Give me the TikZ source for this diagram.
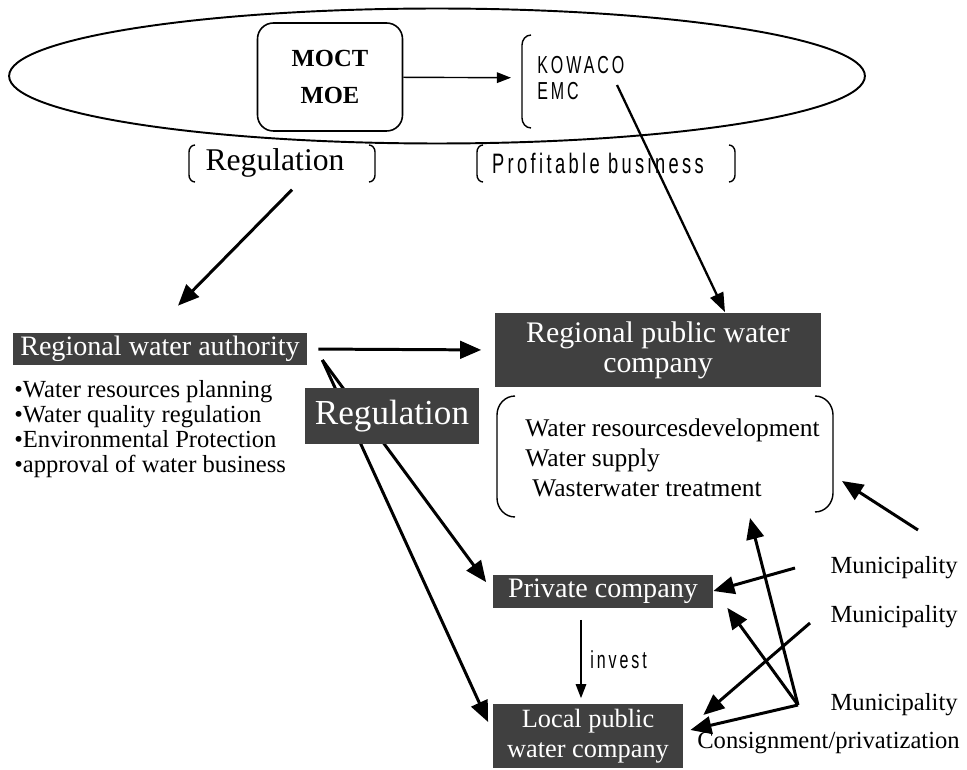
\documentclass[tikz,border=0pt]{standalone}
\usepackage{fontspec}
\setmainfont{Liberation Serif}
\newfontfamily\narrowsans[FakeStretch=0.65, LetterSpace=12]{Liberation Sans}
\usetikzlibrary{shapes.geometric, arrows.meta, positioning, calc}

\begin{document}
\begin{tikzpicture}[
    x=0.02cm, y=-0.02cm,
    serif/.style={font=\fontsize{14}{14.2}\selectfont, inner sep=0pt, align=left},
    narrow/.style={font=\narrowsans\fontsize{16}{17}\selectfont, inner sep=0pt, align=left},
    shaded/.style={rectangle, fill=black!75, text=white, inner sep=0pt, align=center},
    bigarrow/.style={->, line width=1.7pt, >={Triangle[length=12pt,width=10pt]}},
    midarrow/.style={->, line width=1.3pt, >={Triangle[length=11pt,width=8pt]}},
    thinarrow/.style={->, line width=0.8pt, >={Triangle[length=8pt,width=6pt]}},
    bracket/.style={line width=0.8pt}
]
\useasboundingbox (0,0) rectangle (967,770);

% Ministries and public corporations
\node[ellipse, draw, line width=1.1pt, minimum width=17.12cm, minimum height=2.7cm] (gov) at (437,76) {};
\node[rectangle, draw, rounded corners=9pt, line width=0.9pt, minimum width=2.9cm, minimum height=2.16cm,
      align=center, font=\bfseries\fontsize{14}{21.5}\selectfont] (ministry) at (330,77) {MOCT\\MOE};
\node[narrow, font=\narrowsans\fontsize{14}{15.3}\selectfont, anchor=west] (kowaco) at (537,78) {KOWACO\\EMC};
\coordinate (emc) at (617,85);
\draw[bracket] (531,35) to[out=180,in=90] (522,45) -- (522,118) to[out=-90,in=180] (531,128);
\draw[thinarrow, shorten >=0.52cm] (ministry) -- (kowaco);

% Roles
\node[serif, font=\fontsize{18}{18}\selectfont] (regtop) at (275,163) {Regulation};
\draw[bracket] (195,145) to[out=180,in=90] (189,152) -- (189,175) to[out=-90,in=180] (195,182);
\draw[bracket] (369,145) to[out=0,in=90] (375,152) -- (375,175) to[out=-90,in=0] (369,182);
\node[narrow] (profit) at (598,163) {Profitable business};
\draw[bracket] (483,145) to[out=180,in=90] (477,152) -- (477,175) to[out=-90,in=180] (483,182);
\draw[bracket] (729,145) to[out=0,in=90] (735,152) -- (735,175) to[out=-90,in=0] (729,182);

% Regional level
\node[shaded, minimum width=5.88cm, minimum height=0.64cm, font=\fontsize{16}{16}\selectfont] (authority) at (160,349) {Regional water authority};
\node[serif, anchor=west] (duties) at (14,429) {\textbullet Water resources planning\\\textbullet Water quality regulation\\\textbullet Environmental Protection\\\textbullet approval of water business};
\node[shaded, minimum width=6.54cm, minimum height=1.5cm, font=\fontsize{17}{17}\selectfont] (pubco) at (658,350) {Regional public water\\company};
\node[serif, font=\fontsize{14.5}{17}\selectfont, anchor=west] (services) at (525,458) {Water resourcesdevelopment\\Water supply\\\hspace{4pt}Wasterwater treatment};
\draw[bracket] (515,396) to[out=180,in=90] (497,415) -- (497,498) to[out=-90,in=180] (515,517);
\draw[bracket] (815,396) to[out=0,in=90] (833,415) -- (833,493) to[out=-90,in=0] (815,512);
\coordinate (svcright) at (842,481);
\coordinate (svcbottom) at (750,518);

% Local level
\node[shaded, minimum width=4.4cm, minimum height=0.66cm, font=\fontsize{16}{16}\selectfont] (private) at (603,591) {Private company};
\node[shaded, minimum width=3.8cm, minimum height=1.3cm, font=\fontsize{15}{17}\selectfont] (local) at (588,736) {Local public\\water company};
\node[narrow, font=\narrowsans\fontsize{14}{15}\selectfont, anchor=west] (invest) at (590,660) {invest};
\draw[thinarrow, shorten <=0.24cm, shorten >=0.1cm] ($(private.south -| local.north)+(-7,0)$) -- ($(local.north)+(-7,0)$);

% Regulation arrows
\coordinate (regfork) at ($(authority.east)+(15,11)$);
\draw[bigarrow, shorten >=0.22cm] (regfork) -- (private.west);
\draw[bigarrow, shorten >=0.22cm] (regfork) -- ($(local.west)+(0,-4)$);
\node[shaded, minimum width=3.5cm, minimum height=1.14cm, font=\fontsize{20}{20}\selectfont] (regbox) at (392,416) {Regulation};
\draw[bigarrow, shorten <=0.22cm, shorten >=0.26cm] (authority.east) -- (pubco.west);
\draw[bigarrow] ($(regtop.south)+(17,12)$) -- ($(authority.north)+(18,-27)$);
\draw[midarrow] (emc) -- ($(pubco.north)+(67,0)$);

% Municipalities
\node[serif, anchor=east] (muni1) at (958,568) {Municipality};
\node[serif, anchor=east] (muni2) at (958,617) {Municipality};
\node[serif, anchor=east] (muni3) at (958,705) {Municipality};
\node[serif, anchor=east] (consign) at (960,743) {Consignment/privatization};
\coordinate (m1) at (918,530);
\coordinate (m2) at (795,568);
\coordinate (m3) at (810,623);
\coordinate (m4) at (798,705);
\draw[bigarrow] (m1) -- (svcright);
\draw[bigarrow] (m2) -- (private.east);
\draw[bigarrow] (m3) -- ($(local.east)+(20,-21)$);
\draw[bigarrow] (m4) -- (svcbottom);
\draw[bigarrow] (m4) -- ($(private.south east)+(14,0)$);
\draw[bigarrow] (m4) -- ($(local.east)+(7,-6)$);

\end{tikzpicture}
\end{document}
